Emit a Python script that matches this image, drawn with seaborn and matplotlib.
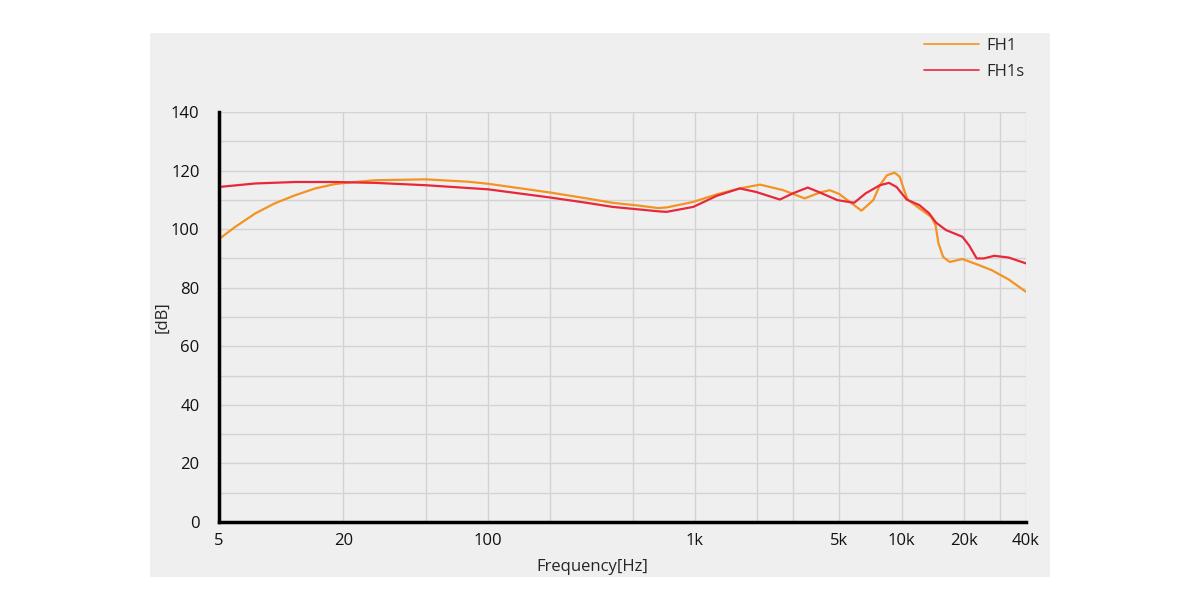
import pandas as pd
import matplotlib.pyplot as plt
import matplotlib.patches as patches
import seaborn as sns

# frequency response
fh1_freq = [5, 6, 7.5, 9.3, 11.7, 14.6, 18.2, 22.7, 28.4, 50, 80, 100, 200, 300, 400,
            543, 663, 731, 984, 1280, 1650, 2070, 2680, 3400, 4030, 4500, 5000, 5620,
            6400, 7300, 7860, 8500, 9250, 9800, 10300, 10700, 12200, 13900, 14600,
            15100, 15900, 17100, 19700, 23100, 27300, 33000, 40000]
fh1_db = [96.6, 100.8, 105.4, 108.8, 111.6, 113.9, 115.4, 116.1, 116.7, 117.0, 116.2,
          115.5, 112.5, 110.5, 109.0, 108.0, 107.2, 107.4, 109.3, 111.9, 113.9, 115.2,
          113.3, 110.5, 112.5, 113.3, 112.0, 109.3, 106.3, 109.9, 115.0, 118.4, 119.3,
          117.9, 113.3, 110.1, 107.1, 104.2, 101.4, 95.1, 90.5, 88.8, 89.8, 88.0, 86.0,
          82.8, 78.6]

fh1s_freq = [5, 7.5, 11.7, 18.2, 28.4, 50, 100, 200, 300, 400, 543, 663, 731, 984,
             1280, 1650, 1980, 2580, 3000, 3520, 4030, 4900, 5900, 6700, 7860, 8700,
             9460, 10600, 12200, 13600, 14700, 16400, 19700, 21200, 23100, 25000, 28100,
             33000, 40000]
fh1s_db = [114.4, 115.6, 116.1, 116.1, 115.8, 115.0, 113.6, 110.8, 109.0, 107.6, 106.7,
           106.1, 105.9, 107.6, 111.4, 113.9, 112.7, 110.1, 112.3, 114.2, 112.5, 109.9,
           109.0, 112.2, 115.0, 115.8, 114.4, 110.1, 108.2, 105.4, 102.2, 99.7, 97.4,
           94.5, 90.0, 90.0, 90.9, 90.3, 88.3]

series_names = ["FH1", "FH1s"]
colors = ["#f39323", "#e8283a"]

grid_freqs = [5, 20, 50, 100, 200, 500, 1000, 2000, 3000, 5000, 10000, 20000, 30000, 40000]
grid_labels = ["5", "20", "", "100", "", "", "1k", "", "", "5k", "10k", "20k", "", "40k"]

df = pd.concat([
    pd.DataFrame({"freq": fh1_freq, "db": fh1_db, "series": "FH1"}),
    pd.DataFrame({"freq": fh1s_freq, "db": fh1s_db, "series": "FH1s"}),
])

sns.set_style("white")
plt.rcParams["font.family"] = ["Open Sans", "DejaVu Sans"]

fig = plt.figure(figsize=(12, 6), dpi=100)
fig.patch.set_facecolor("white")
# grey panel behind the whole chart
fig.patches.append(patches.Rectangle((150 / 1200, 23 / 600), 900 / 1200, 544 / 600,
                                     transform=fig.transFigure, facecolor="#efefef",
                                     edgecolor="none", zorder=-10))

ax = fig.add_axes([219 / 1200, 78 / 600, 807 / 1200, 410 / 600])
ax.set_facecolor("#efefef")

sns.lineplot(data=df, x="freq", y="db", hue="series", palette=colors,
             hue_order=series_names, sort=False, linewidth=1.6, ax=ax, legend=False)
for line in ax.lines:
    line.set_solid_joinstyle("round")

ax.set_xscale("log")
ax.set_xlim(5, 40000)
ax.set_ylim(0, 140)
ax.set_xticks(grid_freqs)
ax.set_xticklabels(grid_labels)
ax.xaxis.set_minor_locator(plt.NullLocator())
ax.set_yticks(range(0, 141, 20))
ax.set_yticks(range(0, 141, 10), minor=True)
ax.grid(True, which="both", color="#d3d3d3", linewidth=1.0)
ax.tick_params(axis="both", which="both", length=0, labelsize=12, colors="#111111")
ax.tick_params(axis="x", pad=8)
ax.tick_params(axis="y", pad=14)

for side in ["top", "right"]:
    ax.spines[side].set_visible(False)
for side in ["left", "bottom"]:
    ax.spines[side].set_linewidth(2.5)
    ax.spines[side].set_color("black")

ax.set_xlabel("Frequency[Hz]", fontsize=12)
ax.xaxis.set_label_coords(0.462, -0.09)
ax.set_ylabel("[dB]", fontsize=12)
ax.yaxis.set_label_coords(-0.06, 0.5)

handles = [plt.Line2D([], [], color=c, linewidth=1.2) for c in colors]
fig.legend(handles, series_names, loc="upper right", bbox_to_anchor=(1040 / 1200, 1 - 23 / 600),
           frameon=False, fontsize=12, handlelength=3.3, handletextpad=0.5,
           labelspacing=0.6)

fig.savefig("out.png", dpi=100, facecolor="white")
